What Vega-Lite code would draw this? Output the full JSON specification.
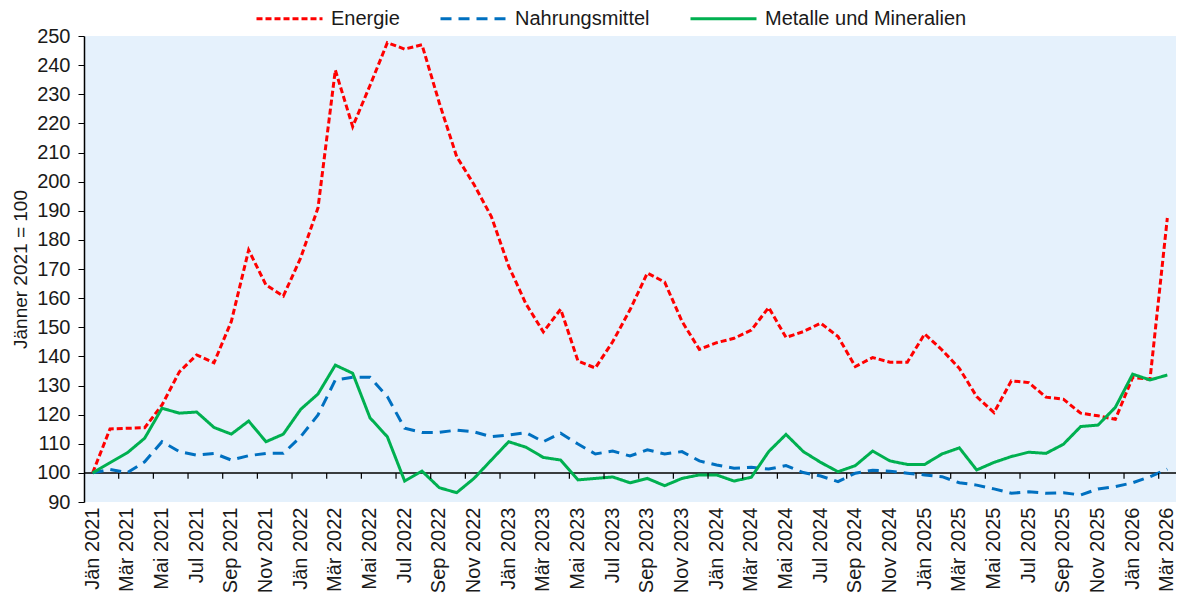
{
  "$schema": "https://vega.github.io/schema/vega-lite/v6.json",
  "width": 1092,
  "height": 466,
  "autosize": {"type": "none"},
  "padding": {"left": 84, "top": 36, "right": 3, "bottom": 93},
  "config": {
    "font": "Liberation Sans",
    "view": {"fill": "#E5F1FC", "stroke": null},
    "axis": {"labelFont": "Liberation Sans", "labelColor": "#1a1a1a", "titleFont": "Liberation Sans", "titleColor": "#1a1a1a", "grid": false},
    "axisY": {"labelOverlap": false, "tickCount": 20},
    "legend": {"labelFont": "Liberation Sans", "labelColor": "#1a1a1a"}
  },
  "layer": [
    {
      "data": {"values": [{"ref": 100}]},
      "mark": {"type": "rule", "color": "#000000", "strokeWidth": 1.5},
      "encoding": {"y": {"field": "ref", "type": "quantitative"}}
    },
    {
      "data": {"values": [
        {"m": "Jän 2021", "Energie": 100, "Nahrungsmittel": 100, "Metalle und Mineralien": 100},
        {"m": "Feb 2021", "Energie": 115.1, "Nahrungsmittel": 101.2, "Metalle und Mineralien": 103.5},
        {"m": "Mär 2021", "Energie": 115.3, "Nahrungsmittel": 100.1, "Metalle und Mineralien": 106.9},
        {"m": "Apr 2021", "Energie": 115.5, "Nahrungsmittel": 103.8, "Metalle und Mineralien": 111.9},
        {"m": "Mai 2021", "Energie": 123.3, "Nahrungsmittel": 110.7, "Metalle und Mineralien": 122.2},
        {"m": "Jun 2021", "Energie": 134.7, "Nahrungsmittel": 107.3, "Metalle und Mineralien": 120.5},
        {"m": "Jul 2021", "Energie": 140.5, "Nahrungsmittel": 106.1, "Metalle und Mineralien": 120.9},
        {"m": "Aug 2021", "Energie": 137.8, "Nahrungsmittel": 106.7, "Metalle und Mineralien": 115.6},
        {"m": "Sep 2021", "Energie": 152, "Nahrungsmittel": 104.4, "Metalle und Mineralien": 113.3},
        {"m": "Okt 2021", "Energie": 176.5, "Nahrungsmittel": 105.9, "Metalle und Mineralien": 117.8},
        {"m": "Nov 2021", "Energie": 164.5, "Nahrungsmittel": 106.7, "Metalle und Mineralien": 110.7},
        {"m": "Dez 2021", "Energie": 160.7, "Nahrungsmittel": 106.7, "Metalle und Mineralien": 113.3},
        {"m": "Jän 2022", "Energie": 173.8, "Nahrungsmittel": 112.4, "Metalle und Mineralien": 121.8},
        {"m": "Feb 2022", "Energie": 191, "Nahrungsmittel": 119.9, "Metalle und Mineralien": 127.1},
        {"m": "Mär 2022", "Energie": 238.3, "Nahrungsmittel": 131.9, "Metalle und Mineralien": 137},
        {"m": "Apr 2022", "Energie": 218.9, "Nahrungsmittel": 132.8, "Metalle und Mineralien": 134.2},
        {"m": "Mai 2022", "Energie": 233, "Nahrungsmittel": 132.8, "Metalle und Mineralien": 118.9},
        {"m": "Jun 2022", "Energie": 247.7, "Nahrungsmittel": 126.2, "Metalle und Mineralien": 112.4},
        {"m": "Jul 2022", "Energie": 245.5, "Nahrungsmittel": 115.3, "Metalle und Mineralien": 97.2},
        {"m": "Aug 2022", "Energie": 247, "Nahrungsmittel": 113.9, "Metalle und Mineralien": 100.6},
        {"m": "Sep 2022", "Energie": 227, "Nahrungsmittel": 113.9, "Metalle und Mineralien": 94.9},
        {"m": "Okt 2022", "Energie": 208.6, "Nahrungsmittel": 114.7, "Metalle und Mineralien": 93.2},
        {"m": "Nov 2022", "Energie": 199, "Nahrungsmittel": 114.1, "Metalle und Mineralien": 98.1},
        {"m": "Dez 2022", "Energie": 188, "Nahrungsmittel": 112.4, "Metalle und Mineralien": 104.4},
        {"m": "Jän 2023", "Energie": 171, "Nahrungsmittel": 113, "Metalle und Mineralien": 110.7},
        {"m": "Feb 2023", "Energie": 158, "Nahrungsmittel": 113.8, "Metalle und Mineralien": 108.8},
        {"m": "Mär 2023", "Energie": 148.4, "Nahrungsmittel": 110.7, "Metalle und Mineralien": 105.3},
        {"m": "Apr 2023", "Energie": 156.2, "Nahrungsmittel": 113.6, "Metalle und Mineralien": 104.4},
        {"m": "Mai 2023", "Energie": 138.4, "Nahrungsmittel": 109.9, "Metalle und Mineralien": 97.6},
        {"m": "Jun 2023", "Energie": 136, "Nahrungsmittel": 106.5, "Metalle und Mineralien": 98.1},
        {"m": "Jul 2023", "Energie": 145, "Nahrungsmittel": 107.5, "Metalle und Mineralien": 98.6},
        {"m": "Aug 2023", "Energie": 156, "Nahrungsmittel": 105.8, "Metalle und Mineralien": 96.6},
        {"m": "Sep 2023", "Energie": 168.6, "Nahrungsmittel": 107.9, "Metalle und Mineralien": 98.1},
        {"m": "Okt 2023", "Energie": 165.5, "Nahrungsmittel": 106.5, "Metalle und Mineralien": 95.6},
        {"m": "Nov 2023", "Energie": 152, "Nahrungsmittel": 107.3, "Metalle und Mineralien": 98.1},
        {"m": "Dez 2023", "Energie": 142.4, "Nahrungsmittel": 104.1, "Metalle und Mineralien": 99.3},
        {"m": "Jän 2024", "Energie": 144.7, "Nahrungsmittel": 102.7, "Metalle und Mineralien": 99.3},
        {"m": "Feb 2024", "Energie": 146.2, "Nahrungsmittel": 101.6, "Metalle und Mineralien": 97.2},
        {"m": "Mär 2024", "Energie": 149, "Nahrungsmittel": 101.9, "Metalle und Mineralien": 98.5},
        {"m": "Apr 2024", "Energie": 156.8, "Nahrungsmittel": 101.3, "Metalle und Mineralien": 107.3},
        {"m": "Mai 2024", "Energie": 146.5, "Nahrungsmittel": 102.5, "Metalle und Mineralien": 113.2},
        {"m": "Jun 2024", "Energie": 148.5, "Nahrungsmittel": 100.1, "Metalle und Mineralien": 107.3},
        {"m": "Jul 2024", "Energie": 151.4, "Nahrungsmittel": 98.9, "Metalle und Mineralien": 103.6},
        {"m": "Aug 2024", "Energie": 146.8, "Nahrungsmittel": 97, "Metalle und Mineralien": 100.4},
        {"m": "Sep 2024", "Energie": 136.5, "Nahrungsmittel": 99.9, "Metalle und Mineralien": 102.5},
        {"m": "Okt 2024", "Energie": 139.6, "Nahrungsmittel": 100.9, "Metalle und Mineralien": 107.5},
        {"m": "Nov 2024", "Energie": 138, "Nahrungsmittel": 100.6, "Metalle und Mineralien": 104.1},
        {"m": "Dez 2024", "Energie": 138, "Nahrungsmittel": 99.9, "Metalle und Mineralien": 102.9},
        {"m": "Jän 2025", "Energie": 147.7, "Nahrungsmittel": 99.3, "Metalle und Mineralien": 102.9},
        {"m": "Feb 2025", "Energie": 142.2, "Nahrungsmittel": 98.7, "Metalle und Mineralien": 106.5},
        {"m": "Mär 2025", "Energie": 135.9, "Nahrungsmittel": 96.6, "Metalle und Mineralien": 108.6},
        {"m": "Apr 2025", "Energie": 126.2, "Nahrungsmittel": 95.8, "Metalle und Mineralien": 101},
        {"m": "Mai 2025", "Energie": 120.7, "Nahrungsmittel": 94.5, "Metalle und Mineralien": 103.6},
        {"m": "Jun 2025", "Energie": 131.6, "Nahrungsmittel": 93, "Metalle und Mineralien": 105.6},
        {"m": "Jul 2025", "Energie": 131, "Nahrungsmittel": 93.5, "Metalle und Mineralien": 107.1},
        {"m": "Aug 2025", "Energie": 126, "Nahrungsmittel": 93, "Metalle und Mineralien": 106.7},
        {"m": "Sep 2025", "Energie": 125.3, "Nahrungsmittel": 93.2, "Metalle und Mineralien": 109.8},
        {"m": "Okt 2025", "Energie": 120.5, "Nahrungsmittel": 92.4, "Metalle und Mineralien": 115.9},
        {"m": "Nov 2025", "Energie": 119.6, "Nahrungsmittel": 94.5, "Metalle und Mineralien": 116.4},
        {"m": "Dez 2025", "Energie": 118.4, "Nahrungsmittel": 95.3, "Metalle und Mineralien": 122.5},
        {"m": "Jän 2026", "Energie": 132.8, "Nahrungsmittel": 96.6, "Metalle und Mineralien": 133.9},
        {"m": "Feb 2026", "Energie": 132.1, "Nahrungsmittel": 98.7, "Metalle und Mineralien": 131.9},
        {"m": "Mär 2026", "Energie": 187.5, "Nahrungsmittel": 101.3, "Metalle und Mineralien": 133.6}
      ]},
      "transform": [{"fold": ["Energie", "Nahrungsmittel", "Metalle und Mineralien"], "as": ["series", "value"]}],
      "mark": {"type": "line", "strokeWidth": 3},
      "encoding": {
        "x": {"field": "m", "type": "ordinal", "sort": null,
          "scale": {"domain": ["Jän 2021","Feb 2021","Mär 2021","Apr 2021","Mai 2021","Jun 2021","Jul 2021","Aug 2021","Sep 2021","Okt 2021","Nov 2021","Dez 2021","Jän 2022","Feb 2022","Mär 2022","Apr 2022","Mai 2022","Jun 2022","Jul 2022","Aug 2022","Sep 2022","Okt 2022","Nov 2022","Dez 2022","Jän 2023","Feb 2023","Mär 2023","Apr 2023","Mai 2023","Jun 2023","Jul 2023","Aug 2023","Sep 2023","Okt 2023","Nov 2023","Dez 2023","Jän 2024","Feb 2024","Mär 2024","Apr 2024","Mai 2024","Jun 2024","Jul 2024","Aug 2024","Sep 2024","Okt 2024","Nov 2024","Dez 2024","Jän 2025","Feb 2025","Mär 2025","Apr 2025","Mai 2025","Jun 2025","Jul 2025","Aug 2025","Sep 2025","Okt 2025","Nov 2025","Dez 2025","Jän 2026","Feb 2026","Mär 2026"]},
          "axis": {"orient": "bottom", "domain": false, "ticks": false, "labelAngle": 270, "labelFontSize": 20, "labelPadding": 5, "title": null,
            "values": ["Jän 2021","Mär 2021","Mai 2021","Jul 2021","Sep 2021","Nov 2021","Jän 2022","Mär 2022","Mai 2022","Jul 2022","Sep 2022","Nov 2022","Jän 2023","Mär 2023","Mai 2023","Jul 2023","Sep 2023","Nov 2023","Jän 2024","Mär 2024","Mai 2024","Jul 2024","Sep 2024","Nov 2024","Jän 2025","Mär 2025","Mai 2025","Jul 2025","Sep 2025","Nov 2025","Jän 2026","Mär 2026"]}},
        "y": {"field": "value", "type": "quantitative", "scale": {"domain": [90, 250], "nice": false, "zero": false},
          "axis": {"title": "Jänner 2021 = 100", "titleFontSize": 19, "titleFontWeight": "normal", "titlePadding": 6, "tickCount": 20,
            "values": [90,100,110,120,130,140,150,160,170,180,190,200,210,220,230,240,250], "labelOverlap": false,
            "labelFontSize": 20, "labelPadding": 8, "tickSize": 6, "tickColor": "#000000", "domainColor": "#000000", "domainWidth": 1.5}},
        "color": {"field": "series", "type": "nominal",
          "scale": {"domain": ["Energie", "Nahrungsmittel", "Metalle und Mineralien"], "range": ["#FF0000", "#0070C0", "#00B050"]},
          "legend": {"title": null, "orient": "none", "legendX": 171, "legendY": -52, "direction": "horizontal", "symbolType": "stroke", "symbolSize": 4356, "symbolStrokeWidth": 3, "labelFontSize": 20, "labelOffset": 7, "labelLimit": 400, "columnPadding": 34}},
        "strokeDash": {"field": "series", "type": "nominal",
          "scale": {"domain": ["Energie", "Nahrungsmittel", "Metalle und Mineralien"], "range": [[6, 3], [11, 7], [1, 0]]},
          "legend": {"title": null, "orient": "none", "legendX": 171, "legendY": -52, "direction": "horizontal", "symbolType": "stroke", "symbolSize": 4356, "symbolStrokeWidth": 3, "labelFontSize": 20, "labelOffset": 7, "labelLimit": 400, "columnPadding": 34}}
      }
    },
    {
      "data": {"values": [
        {"m": "Feb 2021", "lo": 98, "hi": 100}, {"m": "Apr 2021", "lo": 98, "hi": 100}, {"m": "Jun 2021", "lo": 98, "hi": 100},
        {"m": "Aug 2021", "lo": 98, "hi": 100}, {"m": "Okt 2021", "lo": 98, "hi": 100}, {"m": "Dez 2021", "lo": 98, "hi": 100},
        {"m": "Feb 2022", "lo": 98, "hi": 100}, {"m": "Apr 2022", "lo": 98, "hi": 100}, {"m": "Jun 2022", "lo": 98, "hi": 100},
        {"m": "Aug 2022", "lo": 98, "hi": 100}, {"m": "Okt 2022", "lo": 98, "hi": 100}, {"m": "Dez 2022", "lo": 98, "hi": 100},
        {"m": "Feb 2023", "lo": 98, "hi": 100}, {"m": "Apr 2023", "lo": 98, "hi": 100}, {"m": "Jun 2023", "lo": 98, "hi": 100},
        {"m": "Aug 2023", "lo": 98, "hi": 100}, {"m": "Okt 2023", "lo": 98, "hi": 100}, {"m": "Dez 2023", "lo": 98, "hi": 100},
        {"m": "Feb 2024", "lo": 98, "hi": 100}, {"m": "Apr 2024", "lo": 98, "hi": 100}, {"m": "Jun 2024", "lo": 98, "hi": 100},
        {"m": "Aug 2024", "lo": 98, "hi": 100}, {"m": "Okt 2024", "lo": 98, "hi": 100}, {"m": "Dez 2024", "lo": 98, "hi": 100},
        {"m": "Feb 2025", "lo": 98, "hi": 100}, {"m": "Apr 2025", "lo": 98, "hi": 100}, {"m": "Jun 2025", "lo": 98, "hi": 100},
        {"m": "Aug 2025", "lo": 98, "hi": 100}, {"m": "Okt 2025", "lo": 98, "hi": 100}, {"m": "Dez 2025", "lo": 98, "hi": 100},
        {"m": "Feb 2026", "lo": 98, "hi": 100}
      ]},
      "mark": {"type": "rule", "color": "#000000", "strokeWidth": 1.2, "xOffset": 8.7},
      "encoding": {
        "x": {"field": "m", "type": "ordinal", "sort": null},
        "y": {"field": "hi", "type": "quantitative"},
        "y2": {"field": "lo"}
      }
    }
  ]
}
